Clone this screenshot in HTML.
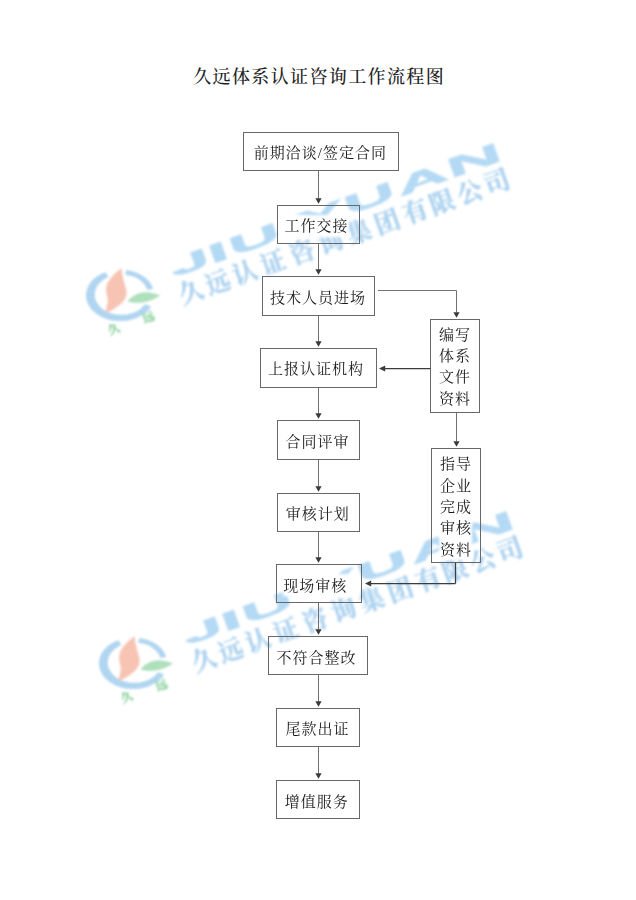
<!DOCTYPE html>
<html lang="zh-CN">
<head>
<meta charset="utf-8">
<title>久远体系认证咨询工作流程图</title>
<style>
html,body{margin:0;padding:0;background:#fff;}
body{width:636px;height:900px;overflow:hidden;position:relative;font-family:"Liberation Serif","Noto Serif CJK SC",serif;}
svg{position:absolute;left:0;top:0;display:block;}
.t{font-family:"Liberation Serif","Noto Serif CJK SC",serif;font-size:15px;letter-spacing:1px;fill:#1a1a1a;font-weight:400;}
.title{font-family:"Liberation Serif","Noto Serif CJK SC",serif;font-size:18px;letter-spacing:1.38px;fill:#222;font-weight:500;}
.bx{fill:none;stroke:#686868;stroke-width:1;}
.wh{fill:#fff;stroke:none;filter:url(#wsoft);}
.ln{fill:none;stroke:#707070;stroke-width:1;}
.ln2{fill:none;stroke:#3c3c3c;stroke-width:1.25;}
.ah{fill:#3a3a3a;stroke:none;}
.wen{font-family:"Liberation Sans",sans-serif;font-weight:700;stroke-linejoin:miter;}
.wcn{font-family:"Liberation Serif","Noto Serif CJK SC",serif;font-weight:700;text-anchor:middle;}
.lg{font-family:"Liberation Serif","Noto Serif CJK SC",serif;font-weight:900;font-size:12px;fill:#92d4a4;stroke:#92d4a4;stroke-width:0.3;text-anchor:middle;}
</style>
</head>
<body>
<svg width="636" height="900" viewBox="0 0 636 900">
<defs>
<filter id="wsoft" x="-20%" y="-40%" width="140%" height="180%"><feGaussianBlur stdDeviation="1.6"/></filter>
<filter id="soft" x="-5%" y="-5%" width="110%" height="110%"><feGaussianBlur stdDeviation="0.8"/></filter>
</defs>
<rect width="636" height="900" fill="#fff"/>
<g id="watermark">
<g transform="translate(0 0)" filter="url(#soft)">
<g class="logo">
<path d="M85.90 295.3 A34.3 25.8 0 1 0 154.50 295.3 A34.3 25.8 0 1 0 85.90 295.3 Z M94.70 294.65 A26.75 20.15 0 1 0 148.20 294.65 A26.75 20.15 0 1 0 94.70 294.65 Z" fill="#b0d5f1" fill-rule="evenodd"/>
<path d="M120.3 296.0 L100.1 263.6 L113.3 256.4 L128.3 260.5 Z" fill="#fff"/>
<path d="M120.3 296.0 L164.6 286.4 L170.2 298.5 L162.7 309.9 Z" fill="#fff"/>
<path d="M121.7 267.9 C116 272 107.5 279 106.2 287.5 C105.3 294 108.5 298 107.6 302.5 C107 306.5 106 310 104.8 313 C110 311.5 122 305.5 125.8 297.4 C129 290.5 122.5 283 121.7 267.9 Z" fill="#f7c4b4"/>
<path d="M127.4 301.4 C131.5 296.3 138 292.5 145 292.3 C151 292.2 156 293.8 160.4 295.2 C155.5 298.8 150 301.3 144 302.3 C138 303.3 132 302.8 127.4 301.4 Z" fill="#aee0bc"/>
<text transform="translate(114 329.4) rotate(-20)" class="lg" y="4">久</text>
<text transform="translate(148.6 317.4) rotate(-20)" class="lg" y="4">远</text>
</g>
<g transform="translate(190.5 293.0) rotate(-19.67)">
<g transform="translate(-10.3 -20.5) rotate(0.00) skewX(0) scale(2.8 1)">
<text class="wen" x="0" y="0" stroke-width="0.6" fill="#b3d9f4" stroke="#b3d9f4"><tspan x="-0.18" font-size="26">J</tspan><tspan x="14.21" font-size="26">I</tspan><tspan x="22.14" font-size="26">U</tspan> <tspan x="48.21" font-size="26">Y</tspan><tspan x="65.86" font-size="26">U</tspan><tspan x="85.71" font-size="26">A</tspan><tspan x="104.82" font-size="28">N</tspan></text>
<rect x="3.98" y="-19.24" width="4.38" height="5.59" fill="#fff"/>
</g>
<text class="wcn" y="8.4" fill="#a2cdee" stroke="#a2cdee" stroke-width="0.35" opacity="0.9"><tspan x="0.9" font-size="24.5">久</tspan><tspan x="29.4" font-size="24.6">远</tspan><tspan x="58" font-size="24.7">认</tspan><tspan x="87.9" font-size="24.8">证</tspan><tspan x="118.8" font-size="24.9">咨</tspan><tspan x="148.9" font-size="25">询</tspan><tspan x="179" font-size="25.1">集</tspan><tspan x="209" font-size="25.2">团</tspan><tspan x="239.1" font-size="25.3">有</tspan><tspan x="267.5" font-size="25.4">限</tspan><tspan x="297" font-size="25.5">公</tspan><tspan x="326.1" font-size="25.6">司</tspan></text>
</g>
</g>
<g transform="translate(13 368)" filter="url(#soft)">
<g class="logo">
<path d="M85.90 295.3 A34.3 25.8 0 1 0 154.50 295.3 A34.3 25.8 0 1 0 85.90 295.3 Z M94.70 294.65 A26.75 20.15 0 1 0 148.20 294.65 A26.75 20.15 0 1 0 94.70 294.65 Z" fill="#b0d5f1" fill-rule="evenodd"/>
<path d="M120.3 296.0 L100.1 263.6 L113.3 256.4 L128.3 260.5 Z" fill="#fff"/>
<path d="M120.3 296.0 L164.6 286.4 L170.2 298.5 L162.7 309.9 Z" fill="#fff"/>
<path d="M121.7 267.9 C116 272 107.5 279 106.2 287.5 C105.3 294 108.5 298 107.6 302.5 C107 306.5 106 310 104.8 313 C110 311.5 122 305.5 125.8 297.4 C129 290.5 122.5 283 121.7 267.9 Z" fill="#f7c4b4"/>
<path d="M127.4 301.4 C131.5 296.3 138 292.5 145 292.3 C151 292.2 156 293.8 160.4 295.2 C155.5 298.8 150 301.3 144 302.3 C138 303.3 132 302.8 127.4 301.4 Z" fill="#aee0bc"/>
<text transform="translate(114 329.4) rotate(-20)" class="lg" y="4">久</text>
<text transform="translate(148.6 317.4) rotate(-20)" class="lg" y="4">远</text>
</g>
<g transform="translate(190.5 293.0) rotate(-19.67)">
<g transform="translate(-10.3 -20.5) rotate(0.00) skewX(0) scale(2.8 1)">
<text class="wen" x="0" y="0" stroke-width="0.6" fill="#b3d9f4" stroke="#b3d9f4"><tspan x="-0.18" font-size="26">J</tspan><tspan x="14.21" font-size="26">I</tspan><tspan x="22.14" font-size="26">U</tspan> <tspan x="48.21" font-size="26">Y</tspan><tspan x="65.86" font-size="26">U</tspan><tspan x="85.71" font-size="26">A</tspan><tspan x="104.82" font-size="28">N</tspan></text>
<rect x="3.98" y="-19.24" width="4.38" height="5.59" fill="#fff"/>
</g>
<text class="wcn" y="8.4" fill="#a2cdee" stroke="#a2cdee" stroke-width="0.35" opacity="0.9"><tspan x="0.9" font-size="24.5">久</tspan><tspan x="29.4" font-size="24.6">远</tspan><tspan x="58" font-size="24.7">认</tspan><tspan x="87.9" font-size="24.8">证</tspan><tspan x="118.8" font-size="24.9">咨</tspan><tspan x="148.9" font-size="25">询</tspan><tspan x="179" font-size="25.1">集</tspan><tspan x="209" font-size="25.2">团</tspan><tspan x="239.1" font-size="25.3">有</tspan><tspan x="267.5" font-size="25.4">限</tspan><tspan x="297" font-size="25.5">公</tspan><tspan x="326.1" font-size="25.6">司</tspan></text>
</g>
</g>
</g>
<g id="flow">
<text class="title" x="193.2" y="83">久远体系认证咨询工作流程图</text>
<rect class="wh" x="253.2" y="141.9" width="134.5" height="22"/>
<rect class="bx" x="243.5" y="132.5" width="155.0" height="38.0"/>
<text class="t" x="253.8" y="158.3">前期洽谈/签定合同</text>
<rect class="wh" x="284" y="215" width="65" height="22"/>
<rect class="bx" x="277.5" y="205.5" width="82.0" height="38.0"/>
<text class="t" x="284.6" y="231.4">工作交接</text>
<rect class="wh" x="269.5" y="286.1" width="97.4" height="22"/>
<rect class="bx" x="262.5" y="276.5" width="112.0" height="39.0"/>
<text class="t" x="270.1" y="302.5">技术人员进场</text>
<rect class="wh" x="267.4" y="357.9" width="97.1" height="22"/>
<rect class="bx" x="260.5" y="348.5" width="116.0" height="39.0"/>
<text class="t" x="268" y="374.3">上报认证机构</text>
<rect class="wh" x="285" y="430.5" width="63.5" height="22"/>
<rect class="bx" x="277.5" y="420.5" width="82.0" height="39.0"/>
<text class="t" x="285.6" y="446.9">合同评审</text>
<rect class="wh" x="285.2" y="502.9" width="65" height="22"/>
<rect class="bx" x="277.5" y="493.5" width="82.0" height="38.0"/>
<text class="t" x="285.8" y="519.3">审核计划</text>
<rect class="wh" x="282.7" y="574.1" width="65.4" height="22"/>
<rect class="bx" x="276.5" y="564.5" width="85.0" height="38.0"/>
<text class="t" x="283.3" y="590.5">现场审核</text>
<rect class="wh" x="276" y="646.1" width="82.1" height="22"/>
<rect class="bx" x="268.5" y="636.5" width="99.0" height="38.0"/>
<text class="t" x="276.6" y="662.5">不符合整改</text>
<rect class="wh" x="284.8" y="717.8" width="65.8" height="22"/>
<rect class="bx" x="276.5" y="708.5" width="83.0" height="38.0"/>
<text class="t" x="285.4" y="734.2">尾款出证</text>
<rect class="wh" x="284.2" y="790.1" width="64.9" height="22"/>
<rect class="bx" x="276.5" y="780.5" width="83.0" height="38.0"/>
<text class="t" x="284.8" y="806.5">增值服务</text>
<rect class="wh" x="438.3" y="323.7" width="33.4" height="85.4"/>
<rect class="bx" x="430.5" y="319.5" width="49.0" height="93.0"/>
<text class="t" x="438.9" y="339.6">编写</text>
<text class="t" x="438.9" y="360.9">体系</text>
<text class="t" x="438.9" y="382.2">文件</text>
<text class="t" x="438.9" y="404">资料</text>
<rect class="wh" x="439.3" y="453.25" width="32.7" height="106.85"/>
<rect class="bx" x="431.5" y="448.5" width="49.0" height="114.0"/>
<text class="t" x="439.9" y="469.15">指导</text>
<text class="t" x="439.9" y="490.8">企业</text>
<text class="t" x="439.9" y="512.1">完成</text>
<text class="t" x="439.9" y="533.3">审核</text>
<text class="t" x="439.9" y="555">资料</text>
<g id="arrows">
<path class="ln" d="M318.5 170.5 V198.8"/><path class="ah" d="M315.4 198.2 h6.2 l-3.1 5.6z"/>
<path class="ln" d="M318.5 243.5 V269.8"/><path class="ah" d="M315.4 269.2 h6.2 l-3.1 5.6z"/>
<path class="ln" d="M318.5 315.5 V341.8"/><path class="ah" d="M315.4 341.2 h6.2 l-3.1 5.6z"/>
<path class="ln" d="M318.5 387.5 V413.8"/><path class="ah" d="M315.4 413.2 h6.2 l-3.1 5.6z"/>
<path class="ln" d="M318.5 459.5 V486.8"/><path class="ah" d="M315.4 486.2 h6.2 l-3.1 5.6z"/>
<path class="ln" d="M318.5 531.5 V557.8"/><path class="ah" d="M315.4 557.2 h6.2 l-3.1 5.6z"/>
<path class="ln" d="M318.5 602.5 V629.8"/><path class="ah" d="M315.4 629.2 h6.2 l-3.1 5.6z"/>
<path class="ln" d="M318.5 674.5 V701.8"/><path class="ah" d="M315.4 701.2 h6.2 l-3.1 5.6z"/>
<path class="ln" d="M318.5 746.5 V773.8"/><path class="ah" d="M315.4 773.2 h6.2 l-3.1 5.6z"/>
<path class="ln" d="M378 290.5 H456.5 V312.5"/><path class="ah" d="M453.4 312.2 h6.2 l-3.1 5.6z"/>
<path class="ln2" d="M430.5 368.5 H384"/><path class="ah" d="M385.2 365.5 v6 l-6.2 -3z"/>
<path class="ln" d="M456.5 412.5 V441.8"/><path class="ah" d="M453.4 441.2 h6.2 l-3.1 5.6z"/>
<path class="ln2" d="M455.5 562.5 V583.5 M455.5 583.5 H370"/><path class="ah" d="M371.2 580.5 v6 l-6.2 -3z"/>
</g>
</g>
</svg>
</body>
</html>
